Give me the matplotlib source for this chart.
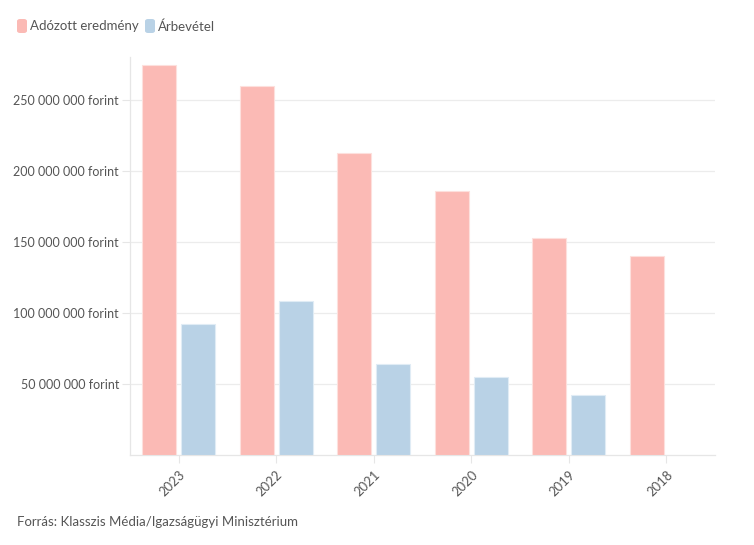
import matplotlib
matplotlib.use("Agg")
import matplotlib.pyplot as plt
from matplotlib.patches import FancyBboxPatch
import numpy as np

years = ["2023", "2022", "2021", "2020", "2019", "2018"]
adozott = [275e6, 260e6, 213e6, 186e6, 152.5e6, 140e6]
arbevetel = [92e6, 108.7e6, 64e6, 55e6, 42.5e6, np.nan]
series_names = ["Adózott eredmény", "Árbevétel"]
yticks = [50e6, 100e6, 150e6, 200e6, 250e6]
ytick_labels = ["50 000 000 forint", "100 000 000 forint", "150 000 000 forint",
                "200 000 000 forint", "250 000 000 forint"]
source = "Forrás: Klasszis Média/Igazságügyi Minisztérium"

plt.rcParams['font.family'] = ['Lato', 'DejaVu Sans']
text_color = "#555555"
pink = "#fbbab5"
blue = "#b9d2e6"

fig = plt.figure(figsize=(7.54, 5.45), dpi=100)
ax = fig.add_axes([130/754, 1-455/545, 585/754, 398/545])

x = np.arange(len(years))
w = 0.35
ax.bar(x - 0.2, adozott, width=w, color=pink, edgecolor="#fde0dd", linewidth=0.8, zorder=3)
ax.bar(x + 0.2, arbevetel, width=w, color=blue, edgecolor="#e0ecf5", linewidth=0.8, zorder=3)

ax.set_xlim(-0.5, len(years) - 0.5)
ax.set_ylim(0, 280.3e6)
ax.set_yticks(yticks)
ax.set_yticklabels(ytick_labels, fontsize=9.0, color=text_color)
ax.set_xticks(x)
ax.set_xticklabels(years, fontsize=9.4, color=text_color, rotation=45, ha="right",
                   rotation_mode="anchor")
ax.tick_params(axis="y", length=6, color="#e6e6e6", pad=2)
ax.tick_params(axis="x", length=6, color="#e6e6e6", pad=4)
ax.grid(axis="y", color="#ececec", linewidth=0.9, zorder=0)
for s in ["top", "right"]:
    ax.spines[s].set_visible(False)
for s in ["left", "bottom"]:
    ax.spines[s].set_color("#e6e6e6")
    ax.spines[s].set_linewidth(0.9)

# legend
for name, col, xx in [(series_names[0], pink, 17), (series_names[1], blue, 145)]:
    fig.patches.append(FancyBboxPatch((xx/754, 1-33/545), 10/754, 14/545,
                                      boxstyle="round,pad=0,rounding_size=0.004",
                                      transform=fig.transFigure, facecolor=col,
                                      edgecolor="none"))
    fig.text((xx + 13)/754, 1-26.5/545, name, fontsize=9.5, color=text_color,
             va="center", ha="left")

fig.text(17/754, 1-522/545, source, fontsize=9.5, color=text_color, va="center", ha="left")

fig.savefig("out.png", dpi=100)
